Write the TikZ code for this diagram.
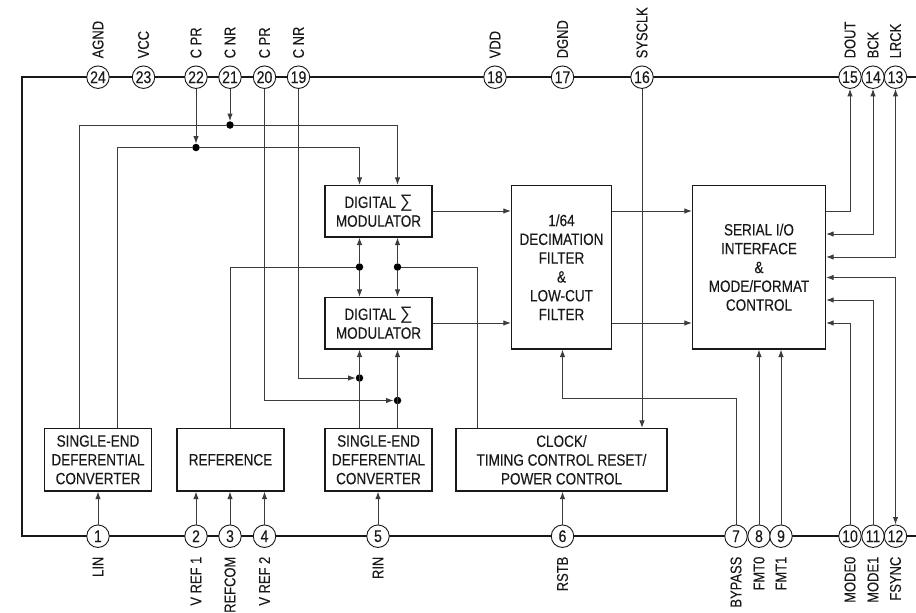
\documentclass[tikz,border=0pt]{standalone}
\usepackage{fontspec}
\setmainfont{Liberation Sans}[FakeStretch=0.83,FakeBold=0.15]
\newfontfamily\sigfont{Liberation Sans}
\usetikzlibrary{arrows.meta}
\definecolor{ink}{gray}{0.1}
\tikzset{
  every node/.style={text=ink},
  txt/.style={font=\fontsize{16.3pt}{18.8pt}\selectfont},
  lbl/.style={font=\fontsize{15.6pt}{18.8pt}\selectfont},
  block/.style={draw=ink,line width=1.2pt,fill=white,align=center,inner sep=0pt,txt},
  pin/.style={circle,draw=ink,line width=0.9pt,fill=white,minimum size=22.5pt,inner sep=0pt,font=\fontsize{17pt}{18.8pt}\selectfont},
  toplabel/.style={rotate=90,anchor=west,inner sep=0pt,lbl},
  botlabel/.style={rotate=90,anchor=east,inner sep=0pt,lbl},
  outline/.style={draw=ink,line width=2pt},
  wire/.style={draw=ink!85,line width=1pt},
  arr/.style={wire,-{Latex[length=7.5pt,width=5.5pt]}},
  dbl/.style={wire,{Latex[length=7.5pt,width=5.5pt]}-{Latex[length=7.5pt,width=5.5pt]}},
  junc/.style={circle,fill=black,minimum size=7.5pt,inner sep=0pt},
}
\newcommand{\sigmasym}{{\sigfont\fontsize{18pt}{18.8pt}\selectfont ∑}}
\begin{document}
\begin{tikzpicture}[x=1pt,y=-1pt]
\useasboundingbox[fill=white] (0,0) rectangle (916,613);
% package outline
\coordinate (otr) at (916,77.2);
\coordinate (otl) at (22,77.2);
\coordinate (obl) at (22,536.2);
\coordinate (obr) at (916,536.2);
\draw[outline] (otr) -- (otl) -- (obl) -- (obr);
% blocks
\node[block,minimum width=107pt,minimum height=51.5pt] (mod1) at (378.5,211.2) {DIGITAL \sigmasym\\MODULATOR};
\node[block,minimum width=107pt,minimum height=51.5pt] (mod2) at (378.5,323.2) {DIGITAL \sigmasym\\MODULATOR};
\node[block,minimum width=100pt,minimum height=163.5pt] (dec) at (561.5,267.2) {1/64\\DECIMATION\\FILTER\\\&\\LOW-CUT\\FILTER};
\node[block,minimum width=133pt,minimum height=163.5pt] (ser) at (759,267.2) {SERIAL I/O\\INTERFACE\\\&\\MODE/FORMAT\\CONTROL};
\node[block,minimum width=106.5pt,minimum height=62.5pt] (se1) at (98,459.8) {SINGLE-END\\DEFERENTIAL\\CONVERTER};
\node[block,minimum width=107pt,minimum height=62.5pt] (refb) at (230.5,459.8) {REFERENCE};
\node[block,minimum width=107pt,minimum height=62.5pt] (se2) at (378.5,459.8) {SINGLE-END\\DEFERENTIAL\\CONVERTER};
\node[block,minimum width=211pt,minimum height=62.5pt] (clk) at (561.5,459.8) {CLOCK/\\TIMING CONTROL RESET/\\POWER CONTROL};
% pins, top
\foreach \n/\x/\l in {24/98/AGND,23/143.5/VCC,22/196/C PR,21/230/C NR,20/264.5/C PR,19/298.5/C NR,18/495/VDD,17/562.5/DGND,16/642/SYSCLK,15/850/DOUT,14/873/BCK,13/895.5/LRCK}{
  \node[pin] (p\n) at (\x,77.2) {\n};
  \node[toplabel] (t\n) at (\x,58.5) {\l};
}
% pins, bottom
\foreach \n/\x/\l in {1/98/LIN,2/196/V REF 1,3/230/REFCOM,4/264.5/V REF 2,5/378/RIN,6/562.5/RSTB,7/736/BYPASS,8/759/FMT0,9/781/FMT1,10/850/MODE0,11/873/MODE1,12/895.5/FSYNC}{
  \node[pin] (p\n) at (\x,536.2) {\n};
  \node[botlabel] (t\n) at (\x,556.5) {\l};
}
% junctions
\node[junc] (j21) at (230,125) {};
\node[junc] (j22) at (196,147.5) {};
\node[junc] (ja) at (359.5,267) {};
\node[junc] (jb) at (397.5,267) {};
\node[junc] (j19) at (359.5,378) {};
\node[junc] (j20) at (397.5,400.5) {};
% helper coordinates
\coordinate (xa) at (359.5,0);
\coordinate (xb) at (397.5,0);
\coordinate (xc) at (79,0);
\coordinate (xd) at (117,0);
\coordinate (xe) at (477.5,0);
\coordinate (yo) at (0,211);
\coordinate (yq) at (0,323);
\coordinate (ybck) at (0,234);
\coordinate (ylr) at (0,257);
\coordinate (yfs) at (0,277.5);
\coordinate (ym1) at (0,300);
\coordinate (cb) at (562.5,398);
% top wires
\draw[arr] (p21.south) -- (j21);
\draw[arr] (p22.south) -- (j22);
\draw[wire] (se1.north -| xc) |- (j21);
\draw[arr] (j21) -| (mod1.north -| xb);
\draw[wire] (se1.north -| xd) |- (j22);
\draw[arr] (j22) -| (mod1.north -| xa);
% between modulators
\draw[arr] (ja) -- (mod1.south -| ja);
\draw[arr] (ja) -- (mod2.north -| ja);
\draw[arr] (jb) -- (mod1.south -| jb);
\draw[arr] (jb) -- (mod2.north -| jb);
\draw[wire] (refb.north) |- (ja);
\draw[wire] (clk.north -| xe) |- (jb);
% lower modulator inputs
\draw[arr] (p19.south) |- (j19);
\draw[arr] (p20.south) |- (j20);
\draw[arr] (se2.north -| j19) -- (mod2.south -| j19);
\draw[arr] (se2.north -| j20) -- (mod2.south -| j20);
% data path
\draw[arr] (mod1.east |- yo) -- (dec.west |- yo);
\draw[arr] (mod2.east |- yq) -- (dec.west |- yq);
\draw[arr] (dec.east |- yo) -- (ser.west |- yo);
\draw[arr] (dec.east |- yq) -- (ser.west |- yq);
% serial side
\draw[arr] (ser.east |- yo) -| (p15.south);
\draw[dbl] (ser.east |- ybck) -| (p14.south);
\draw[dbl] (ser.east |- ylr) -| (p13.south);
\draw[dbl] (ser.east |- yfs) -| (p12.north);
\draw[arr] (p11.north) |- (ser.east |- ym1);
\draw[arr] (p10.north) |- (ser.east |- yq);
\draw[arr] (p8.north) -- (ser.south -| p8);
\draw[arr] (p9.north) -- (ser.south -| p9);
% clock
\draw[arr] (p16.south) -- (clk.north -| p16);
\draw[arr] (p6.north) -- (clk.south -| p6);
\draw[arr] (p7.north) |- (cb) -- (dec.south -| cb);
% bottom inputs
\draw[arr] (p1.north) -- (se1.south -| p1);
\draw[arr] (p2.north) -- (refb.south -| p2);
\draw[arr] (p3.north) -- (refb.south -| p3);
\draw[arr] (p4.north) -- (refb.south -| p4);
\draw[arr] (p5.north) -- (se2.south -| p5);
\end{tikzpicture}
\end{document}
